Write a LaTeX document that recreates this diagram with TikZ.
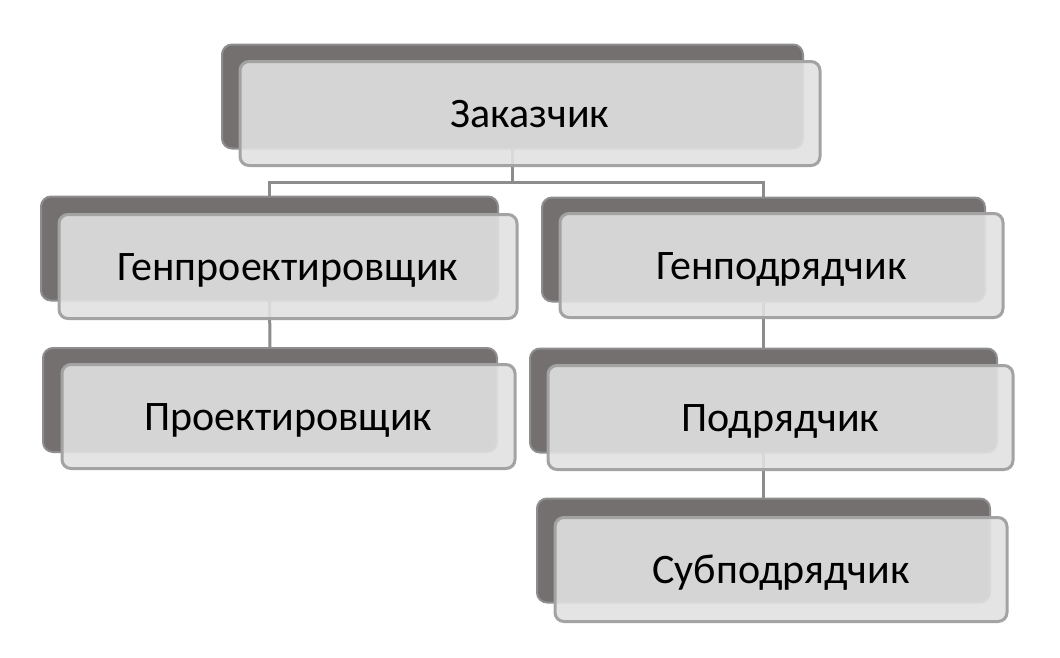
\documentclass[tikz,border=0pt]{standalone}
\usepackage{fontspec}
\setmainfont{Carlito}
\usetikzlibrary{backgrounds}
\definecolor{backgray}{RGB}{116,112,112}
\definecolor{backrim}{RGB}{142,142,142}
\definecolor{frontfill}{RGB}{225,225,225}
\definecolor{frontrim}{RGB}{163,163,163}
\definecolor{linkgray}{RGB}{140,140,140}
\tikzset{
  backbox/.style={draw=backrim, line width=2pt, fill=backgray, rounded corners=10pt,
    minimum height=104pt, inner sep=0pt},
  frontbox/.style={draw=frontrim, line width=3pt, fill=frontfill, fill opacity=.9,
    text opacity=1, rounded corners=9pt, minimum height=104pt, inner sep=0pt,
    font=\fontsize{42}{50}\selectfont, text height=27pt, text depth=0pt},
  link/.style={draw=linkgray, line width=3pt}
}
\begin{document}
\begin{tikzpicture}[x=1pt, y=-1pt]
      \useasboundingbox (0,0) rectangle (1060,657);

      % back boxes
      \node[backbox, minimum width=581pt] (zakB) at (512.5,96.5) {};
      \node[backbox, minimum width=457pt] (genprB) at (269.5,248.5) {};
      \node[backbox, minimum width=443pt] (genpodB) at (763.5,249.5) {};
      \node[backbox, minimum width=454pt] (prB) at (270,400) {};
      \node[backbox, minimum width=467pt] (podB) at (763.5,400.5) {};
      \node[backbox, minimum width=453pt] (subB) at (763.5,550.5) {};

      % front boxes
      \node[frontbox, minimum width=580pt] (zak) at (530,113.5) {Заказчик};
      \node[frontbox, minimum width=458pt] (genpr) at (288,266.5) {Генпроектировщик};
      \node[frontbox, minimum width=443pt] (genpod) at (781.5,265.5) {Генподрядчик};
      \node[frontbox, minimum width=453pt] (pr) at (288.5,416.5) {Проектировщик};
      \node[frontbox, minimum width=465pt] (pod) at (780.5,417.5) {Подрядчик};
      \node[frontbox, minimum width=452pt] (sub) at (781,569.5) {Субподрядчик};

      % connectors
      \begin{scope}[on background layer]
        \coordinate (fork) at (512.5,182);
        \path[link] (zakB.center) -- (fork);
        \path[link] (genprB.center) |- (fork) -| (genpodB.center);
        \path[link] (genprB.center) -- (prB.center);
        \path[link] (genpodB.center) -- (podB.center);
        \path[link] (podB.center) -- (subB.center);
      \end{scope}
    \end{tikzpicture}
\end{document}
